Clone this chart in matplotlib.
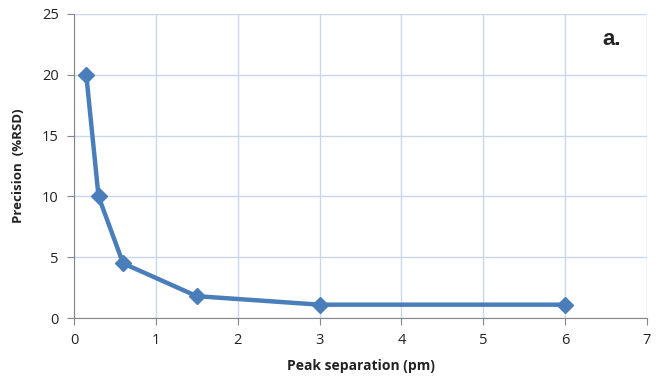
import matplotlib
matplotlib.use('Agg')
import matplotlib.pyplot as plt

plt.rcParams['font.family'] = ['Open Sans', 'DejaVu Sans']

# peak separation (pm) vs precision (%RSD)
separation = [0.15, 0.3, 0.6, 1.5, 3, 6]
precision = [20, 10, 4.5, 1.8, 1.1, 1.1]
x_ticks = [0, 1, 2, 3, 4, 5, 6, 7]
y_ticks = [0, 5, 10, 15, 20, 25]

fig = plt.figure(figsize=(6.64, 3.86), dpi=100)
ax = fig.add_axes([0.1114, 0.176, 0.863, 0.788])

ax.plot(separation, precision, color='#4a7ebb', linewidth=3.2, marker='D',
        markersize=8, markerfacecolor='#4a7ebb', markeredgecolor='#4a7ebb',
        zorder=3, clip_on=False)

ax.set_xlim(0, 7)
ax.set_ylim(0, 25)
ax.set_xticks(x_ticks)
ax.set_yticks(y_ticks)
ax.grid(True, color='#c9d7ee', linewidth=1)
ax.set_axisbelow(True)

for side in ['top', 'right']:
    ax.spines[side].set_visible(False)
for side in ['left', 'bottom']:
    ax.spines[side].set_color('#868686')
ax.tick_params(direction='out', length=5, color='#868686', labelsize=10.5,
               labelcolor='#222222', pad=6)

ax.set_xlabel('Peak separation (pm)', fontsize=10, fontweight='bold', labelpad=8,
              color='#222222')
ax.set_ylabel('Precision  (%RSD)', fontsize=9.5, fontweight='bold', labelpad=12,
              color='#222222')

ax.text(0.955, 0.915, 'a.', transform=ax.transAxes, fontsize=16, ha='right',
        va='center', color='#222222', fontweight='semibold',
        family=['Liberation Sans', 'DejaVu Sans'])

fig.savefig('out.png', dpi=100)
